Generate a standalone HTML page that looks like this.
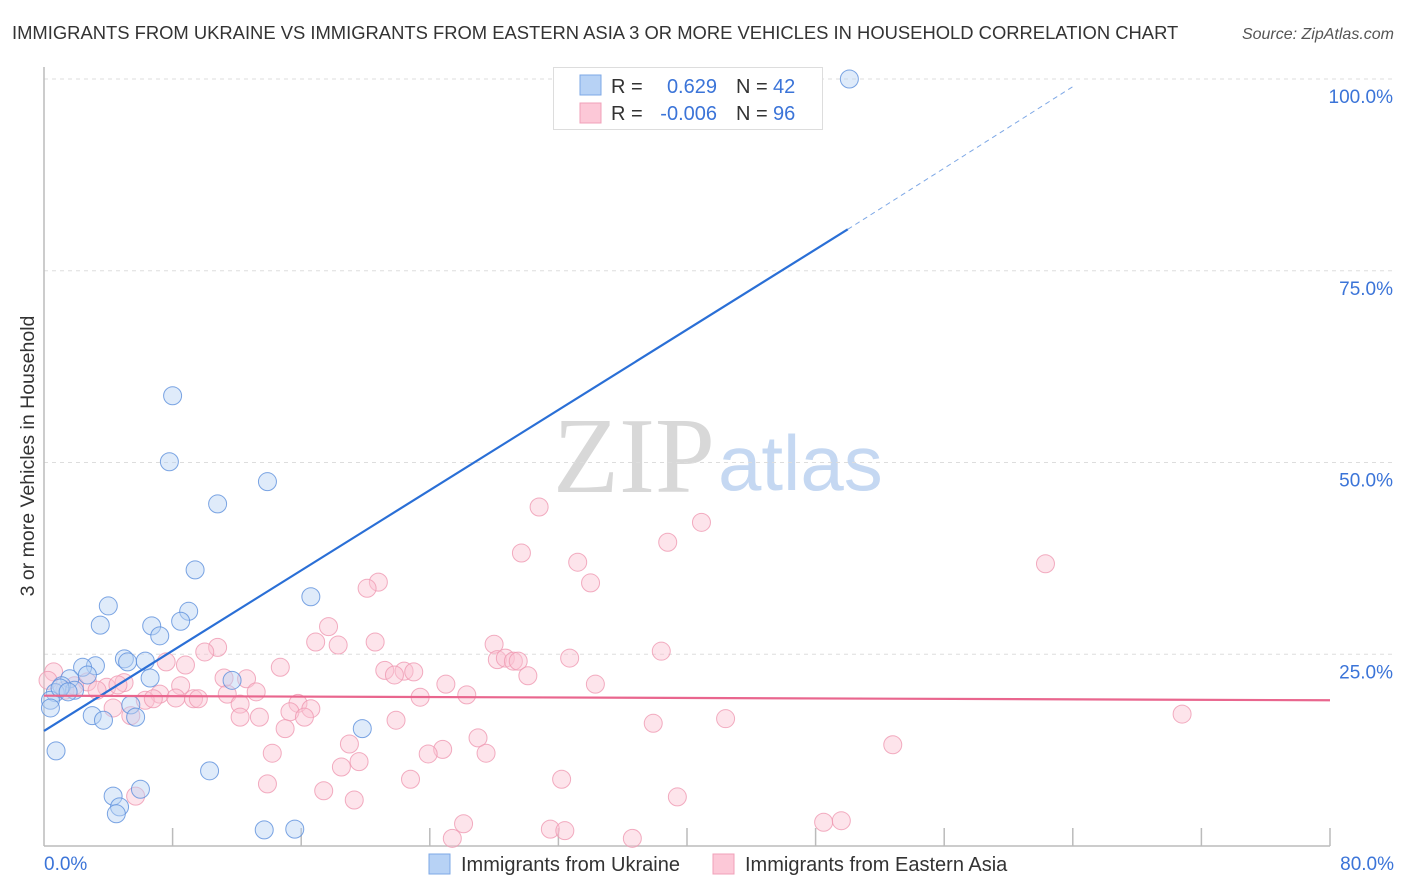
<!DOCTYPE html>
<html><head><meta charset="utf-8"><style>
body{margin:0;background:#fff;font-family:"Liberation Sans",sans-serif;}
svg{display:block}
</style></head><body>
<svg id="chart" width="1406" height="892" xmlns="http://www.w3.org/2000/svg">
<text x="12" y="39" font-size="18.4" fill="#333">IMMIGRANTS FROM UKRAINE VS IMMIGRANTS FROM EASTERN ASIA 3 OR MORE VEHICLES IN HOUSEHOLD CORRELATION CHART</text>
<text x="1394" y="39" font-size="16" fill="#555" font-style="italic" text-anchor="end">Source: ZipAtlas.com</text>
<g>
<text x="553" y="492" font-family="Liberation Serif,serif" font-size="108" fill="#d8d8d8">ZIP</text>
<text x="718" y="490" font-size="78" fill="#c5d8f2">atlas</text>
</g>
<g id="grid"></g>
<g id="axes"></g>
<g id="pink"></g>
<g id="blue"></g>
<g id="lines"></g>
<text transform="translate(34,456) rotate(-90)" font-size="19.5" fill="#333" text-anchor="middle">3 or more Vehicles in Household</text>
<text x="44" y="870" font-size="19" fill="#3b74d8">0.0%</text>
<text x="1394" y="870" font-size="19" fill="#3b74d8" text-anchor="end">80.0%</text>
<g>
<rect x="553.5" y="67.5" width="269" height="62" fill="#fff" stroke="#ddd"/>
<rect x="580" y="75" width="21" height="20" fill="#b7d2f5" stroke="#7ea8e6"/>
<rect x="580" y="103" width="21" height="20" fill="#fcc8d7" stroke="#f0a0b8"/>
<text x="611" y="93" font-size="20" fill="#333">R =</text>
<text x="717" y="93" font-size="20" fill="#3b74d8" text-anchor="end">0.629</text>
<text x="736" y="93" font-size="20" fill="#333">N =</text>
<text x="773" y="93" font-size="20" fill="#3b74d8">42</text>
<text x="611" y="120" font-size="20" fill="#333">R =</text>
<text x="717" y="120" font-size="20" fill="#3b74d8" text-anchor="end">-0.006</text>
<text x="736" y="120" font-size="20" fill="#333">N =</text>
<text x="773" y="120" font-size="20" fill="#3b74d8">96</text>
</g>
<g>
<rect x="429" y="854" width="21" height="20" fill="#b7d2f5" stroke="#7ea8e6"/>
<text x="461" y="871" font-size="20" fill="#333">Immigrants from Ukraine</text>
<rect x="713" y="854" width="21" height="20" fill="#fcc8d7" stroke="#f0a0b8"/>
<text x="745" y="871" font-size="20" fill="#333">Immigrants from Eastern Asia</text>
</g>
</svg>
<script>
const yTicks=[25,50,75,100];
const yTickLabels=["25.0%","50.0%","75.0%","100.0%"];
const xTicks=[0,8,16,24,32,40,48,56,64,72,80];
const blueX=[50.1,8.0,7.8,13.9,10.8,9.4,16.6,4.0,9.0,3.5,6.7,8.5,7.2,5.0,5.2,6.3,3.2,2.4,2.7,6.6,11.7,1.6,1.1,1.9,0.7,0.4,0.4,5.4,3.0,3.7,5.7,19.8,0.75,10.3,6.0,4.3,4.7,4.5,13.7,15.6,1.0,1.5];
const blueY=[100,58.7,50.1,47.5,44.6,36.0,32.5,31.3,30.6,28.8,28.7,29.3,27.4,24.4,24.0,24.1,23.5,23.3,22.3,21.9,21.6,21.8,20.9,20.3,20.0,19.0,18.0,18.4,17.0,16.4,16.8,15.3,12.4,9.8,7.4,6.5,5.1,4.2,2.1,2.2,20.6,20.1];
const pinkX=[30.8,40.9,38.8,29.7,33.2,62.3,20.8,20.1,34.0,17.7,16.9,18.3,20.6,28.0,10.8,10.0,38.4,28.2,28.7,29.2,29.5,32.7,7.6,8.8,14.7,22.4,21.2,21.8,23.0,30.1,11.2,12.6,25.0,34.3,8.5,4.98,3.9,0.6,0.25,2.7,3.3,4.6,7.2,11.4,13.2,15.8,6.3,6.8,8.2,9.3,9.6,23.4,26.3,12.2,16.6,15.3,12.2,13.4,16.2,21.9,5.4,4.3,37.9,42.4,70.8,15.0,19.0,27.0,24.8,23.9,27.5,14.2,52.8,18.5,19.6,13.9,22.8,32.2,17.4,5.7,19.3,39.4,26.1,25.4,31.5,32.4,36.6,48.5,49.6,1.3,1.9];
const pinkY=[44.2,42.2,39.6,38.2,37.0,36.8,34.4,33.6,34.3,28.6,26.6,26.2,26.6,26.3,25.9,25.3,25.4,24.3,24.5,24.1,24.1,24.5,24.0,23.6,23.3,22.8,22.9,22.3,22.7,22.2,21.9,21.8,21.1,21.1,20.9,21.3,20.7,22.7,21.6,21.4,20.3,21.0,19.8,19.8,20.1,18.6,19.0,19.2,19.3,19.2,19.2,19.4,19.7,18.5,17.9,17.5,16.8,16.8,16.8,16.4,17.0,18.0,16.0,16.6,17.2,15.3,13.3,14.1,12.6,12.0,12.1,12.1,13.2,10.3,11.0,8.1,8.7,8.7,7.2,6.5,6.0,6.4,2.9,1.0,2.2,2.0,1.0,3.1,3.3,20.3,20.9];
const blueTrend=[[0,15.0],[50,80.4],[64,99]];
const pinkTrend=[[0,19.6],[80,19.0]];
const NS="http://www.w3.org/2000/svg";
const sx=v=>44+v*(1286/80);
const sy=v=>846-v*7.67;
function mk(tag,attrs,parent){const e=document.createElementNS(NS,tag);for(const k in attrs)e.setAttribute(k,attrs[k]);parent.appendChild(e);return e;}
const grid=document.getElementById('grid'),axes=document.getElementById('axes');
yTicks.forEach((t,i)=>{
  const l=mk('line',{x1:44,x2:1394,y1:sy(t),y2:sy(t),stroke:'#ddd','stroke-dasharray':'4,4'},grid);
  
  
  const tx=mk('text',{x:1393,y:sy(t)+24,'font-size':19,fill:'#3b74d8','text-anchor':'end'},axes);
  tx.textContent=yTickLabels[i];
  
  
});
const ya=mk('line',{x1:44,x2:44,y1:67,y2:846,stroke:'#bbb','stroke-width':1.5},axes);


const xa=mk('line',{x1:44,x2:1330,y1:846,y2:846,stroke:'#bbb','stroke-width':1.5},axes);


xTicks.forEach(t=>{if(t===0)return;
  const l=mk('line',{x1:sx(t),x2:sx(t),y1:828,y2:846,stroke:'#bbb','stroke-width':1.5},axes);
  
  
});
function pts(xs,ys,g,fill,stroke,name){xs.forEach((x,i)=>{
  const c=mk('circle',{cx:sx(x),cy:sy(ys[i]),r:9,fill:fill,'fill-opacity':0.45,stroke:stroke,'stroke-opacity':0.8,'stroke-width':1},g);
  
  
});}
pts(pinkX,pinkY,document.getElementById('pink'),'#fbc3d3','#ef98b2','eastern-asia-point');
pts(blueX,blueY,document.getElementById('blue'),'#b9d3f5','#5b8fdc','ukraine-point');
const lg=document.getElementById('lines');
const b1=mk('line',{x1:sx(blueTrend[0][0]),y1:sy(blueTrend[0][1]),x2:sx(blueTrend[1][0]),y2:sy(blueTrend[1][1]),stroke:'#2a6fd6','stroke-width':2.2},lg);


const b2=mk('line',{x1:sx(blueTrend[1][0]),y1:sy(blueTrend[1][1]),x2:sx(blueTrend[2][0]),y2:sy(blueTrend[2][1]),stroke:'#7ea8e6','stroke-width':1,'stroke-dasharray':'5,4'},lg);


const p1=mk('line',{x1:sx(pinkTrend[0][0]),y1:sy(pinkTrend[0][1]),x2:sx(pinkTrend[1][0]),y2:sy(pinkTrend[1][1]),stroke:'#e9668e','stroke-width':2.2},lg);


</script>
</body></html>
